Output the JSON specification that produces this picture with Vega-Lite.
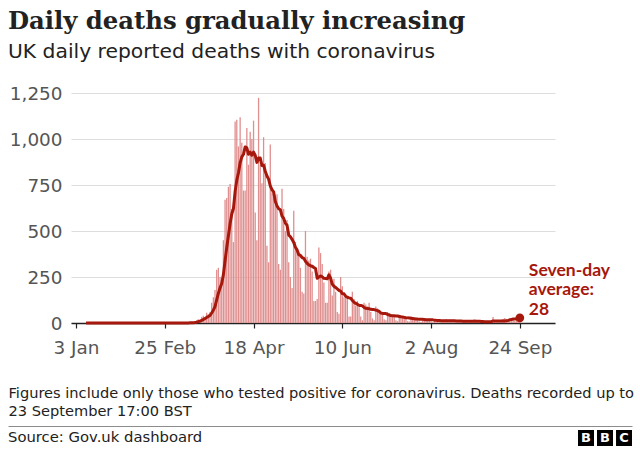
{
  "$schema": "https://vega.github.io/schema/vega-lite/v6.json",
  "background": "white",
  "padding": {"left": 8, "right": 8, "top": 10, "bottom": 0},
  "title": {
    "text": "Daily deaths gradually increasing",
    "subtitle": "UK daily reported deaths with coronavirus",
    "anchor": "start",
    "frame": "bounds",
    "font": "DejaVu Serif",
    "fontSize": 24.3,
    "fontWeight": "bold",
    "color": "#222222",
    "subtitleFont": "DejaVu Sans",
    "subtitleFontSize": 20.3,
    "subtitleColor": "#222222",
    "subtitlePadding": 7,
    "offset": 22
  },
  "datasets": {
    "deaths": [
      {"d":"2020-01-03","v":0},{"d":"2020-01-04","v":0},{"d":"2020-01-05","v":0},{"d":"2020-01-06","v":0},{"d":"2020-01-07","v":0},{"d":"2020-01-08","v":0},{"d":"2020-01-09","v":0},{"d":"2020-01-10","v":0},{"d":"2020-01-11","v":0},{"d":"2020-01-12","v":0},{"d":"2020-01-13","v":0},{"d":"2020-01-14","v":0},{"d":"2020-01-15","v":0},{"d":"2020-01-16","v":0},{"d":"2020-01-17","v":0},{"d":"2020-01-18","v":0},{"d":"2020-01-19","v":0},{"d":"2020-01-20","v":0},{"d":"2020-01-21","v":0},{"d":"2020-01-22","v":0},{"d":"2020-01-23","v":0},{"d":"2020-01-24","v":0},{"d":"2020-01-25","v":0},{"d":"2020-01-26","v":0},{"d":"2020-01-27","v":0},{"d":"2020-01-28","v":0},{"d":"2020-01-29","v":0},{"d":"2020-01-30","v":0},{"d":"2020-01-31","v":0},
      {"d":"2020-02-01","v":0},{"d":"2020-02-02","v":0},{"d":"2020-02-03","v":0},{"d":"2020-02-04","v":0},{"d":"2020-02-05","v":0},{"d":"2020-02-06","v":0},{"d":"2020-02-07","v":0},{"d":"2020-02-08","v":0},{"d":"2020-02-09","v":0},{"d":"2020-02-10","v":0},{"d":"2020-02-11","v":0},{"d":"2020-02-12","v":0},{"d":"2020-02-13","v":0},{"d":"2020-02-14","v":0},{"d":"2020-02-15","v":0},{"d":"2020-02-16","v":0},{"d":"2020-02-17","v":0},{"d":"2020-02-18","v":0},{"d":"2020-02-19","v":0},{"d":"2020-02-20","v":0},{"d":"2020-02-21","v":0},{"d":"2020-02-22","v":0},{"d":"2020-02-23","v":0},{"d":"2020-02-24","v":0},{"d":"2020-02-25","v":0},{"d":"2020-02-26","v":0},{"d":"2020-02-27","v":0},{"d":"2020-02-28","v":0},{"d":"2020-02-29","v":0},
      {"d":"2020-03-01","v":0},{"d":"2020-03-02","v":0},{"d":"2020-03-03","v":0},{"d":"2020-03-04","v":0},{"d":"2020-03-05","v":0},{"d":"2020-03-06","v":1},{"d":"2020-03-07","v":0},{"d":"2020-03-08","v":1},{"d":"2020-03-09","v":1},{"d":"2020-03-10","v":1},{"d":"2020-03-11","v":2},{"d":"2020-03-12","v":1},{"d":"2020-03-13","v":2},{"d":"2020-03-14","v":11},{"d":"2020-03-15","v":14},{"d":"2020-03-16","v":20},{"d":"2020-03-17","v":16},{"d":"2020-03-18","v":33},{"d":"2020-03-19","v":40},{"d":"2020-03-20","v":33},{"d":"2020-03-21","v":56},{"d":"2020-03-22","v":48},{"d":"2020-03-23","v":60},{"d":"2020-03-24","v":110},{"d":"2020-03-25","v":140},{"d":"2020-03-26","v":180},{"d":"2020-03-27","v":290},{"d":"2020-03-28","v":300},{"d":"2020-03-29","v":250},{"d":"2020-03-30","v":230},{"d":"2020-03-31","v":450},
      {"d":"2020-04-01","v":670},{"d":"2020-04-02","v":680},{"d":"2020-04-03","v":740},{"d":"2020-04-04","v":755},{"d":"2020-04-05","v":620},{"d":"2020-04-06","v":440},{"d":"2020-04-07","v":1095},{"d":"2020-04-08","v":1105},{"d":"2020-04-09","v":960},{"d":"2020-04-10","v":1118},{"d":"2020-04-11","v":980},{"d":"2020-04-12","v":720},{"d":"2020-04-13","v":720},{"d":"2020-04-14","v":1060},{"d":"2020-04-15","v":860},{"d":"2020-04-16","v":1040},{"d":"2020-04-17","v":1000},{"d":"2020-04-18","v":1100},{"d":"2020-04-19","v":600},{"d":"2020-04-20","v":450},{"d":"2020-04-21","v":1224},{"d":"2020-04-22","v":860},{"d":"2020-04-23","v":760},{"d":"2020-04-24","v":1010},{"d":"2020-04-25","v":870},{"d":"2020-04-26","v":420},{"d":"2020-04-27","v":330},{"d":"2020-04-28","v":970},{"d":"2020-04-29","v":710},{"d":"2020-04-30","v":680},
      {"d":"2020-05-01","v":640},{"d":"2020-05-02","v":700},{"d":"2020-05-03","v":320},{"d":"2020-05-04","v":290},{"d":"2020-05-05","v":730},{"d":"2020-05-06","v":620},{"d":"2020-05-07","v":500},{"d":"2020-05-08","v":560},{"d":"2020-05-09","v":330},{"d":"2020-05-10","v":250},{"d":"2020-05-11","v":190},{"d":"2020-05-12","v":610},{"d":"2020-05-13","v":440},{"d":"2020-05-14","v":400},{"d":"2020-05-15","v":380},{"d":"2020-05-16","v":300},{"d":"2020-05-17","v":170},{"d":"2020-05-18","v":160},{"d":"2020-05-19","v":500},{"d":"2020-05-20","v":360},{"d":"2020-05-21","v":340},{"d":"2020-05-22","v":350},{"d":"2020-05-23","v":280},{"d":"2020-05-24","v":120},{"d":"2020-05-25","v":120},{"d":"2020-05-26","v":130},{"d":"2020-05-27","v":410},{"d":"2020-05-28","v":380},{"d":"2020-05-29","v":320},{"d":"2020-05-30","v":220},{"d":"2020-05-31","v":110},
      {"d":"2020-06-01","v":110},{"d":"2020-06-02","v":280},{"d":"2020-06-03","v":290},{"d":"2020-06-04","v":150},{"d":"2020-06-05","v":240},{"d":"2020-06-06","v":170},{"d":"2020-06-07","v":60},{"d":"2020-06-08","v":50},{"d":"2020-06-09","v":250},{"d":"2020-06-10","v":200},{"d":"2020-06-11","v":140},{"d":"2020-06-12","v":150},{"d":"2020-06-13","v":130},{"d":"2020-06-14","v":35},{"d":"2020-06-15","v":35},{"d":"2020-06-16","v":170},{"d":"2020-06-17","v":130},{"d":"2020-06-18","v":95},{"d":"2020-06-19","v":120},{"d":"2020-06-20","v":85},{"d":"2020-06-21","v":35},{"d":"2020-06-22","v":15},{"d":"2020-06-23","v":110},{"d":"2020-06-24","v":100},{"d":"2020-06-25","v":90},{"d":"2020-06-26","v":110},{"d":"2020-06-27","v":60},{"d":"2020-06-28","v":25},{"d":"2020-06-29","v":15},{"d":"2020-06-30","v":90},
      {"d":"2020-07-01","v":80},{"d":"2020-07-02","v":60},{"d":"2020-07-03","v":50},{"d":"2020-07-04","v":45},{"d":"2020-07-05","v":20},{"d":"2020-07-06","v":15},{"d":"2020-07-07","v":60},{"d":"2020-07-08","v":55},{"d":"2020-07-09","v":40},{"d":"2020-07-10","v":45},{"d":"2020-07-11","v":40},{"d":"2020-07-12","v":15},{"d":"2020-07-13","v":10},{"d":"2020-07-14","v":45},{"d":"2020-07-15","v":40},{"d":"2020-07-16","v":35},{"d":"2020-07-17","v":30},{"d":"2020-07-18","v":25},{"d":"2020-07-19","v":10},{"d":"2020-07-20","v":8},{"d":"2020-07-21","v":35},{"d":"2020-07-22","v":30},{"d":"2020-07-23","v":25},{"d":"2020-07-24","v":20},{"d":"2020-07-25","v":20},{"d":"2020-07-26","v":8},{"d":"2020-07-27","v":5},{"d":"2020-07-28","v":30},{"d":"2020-07-29","v":25},{"d":"2020-07-30","v":20},{"d":"2020-07-31","v":18},
      {"d":"2020-08-01","v":15},{"d":"2020-08-02","v":8},{"d":"2020-08-03","v":3},{"d":"2020-08-04","v":20},{"d":"2020-08-05","v":18},{"d":"2020-08-06","v":15},{"d":"2020-08-07","v":12},{"d":"2020-08-08","v":10},{"d":"2020-08-09","v":5},{"d":"2020-08-10","v":8},{"d":"2020-08-11","v":20},{"d":"2020-08-12","v":15},{"d":"2020-08-13","v":12},{"d":"2020-08-14","v":14},{"d":"2020-08-15","v":10},{"d":"2020-08-16","v":5},{"d":"2020-08-17","v":3},{"d":"2020-08-18","v":15},{"d":"2020-08-19","v":14},{"d":"2020-08-20","v":12},{"d":"2020-08-21","v":10},{"d":"2020-08-22","v":12},{"d":"2020-08-23","v":3},{"d":"2020-08-24","v":2},{"d":"2020-08-25","v":16},{"d":"2020-08-26","v":15},{"d":"2020-08-27","v":13},{"d":"2020-08-28","v":12},{"d":"2020-08-29","v":10},{"d":"2020-08-30","v":1},{"d":"2020-08-31","v":2},
      {"d":"2020-09-01","v":3},{"d":"2020-09-02","v":12},{"d":"2020-09-03","v":10},{"d":"2020-09-04","v":12},{"d":"2020-09-05","v":8},{"d":"2020-09-06","v":2},{"d":"2020-09-07","v":3},{"d":"2020-09-08","v":32},{"d":"2020-09-09","v":8},{"d":"2020-09-10","v":14},{"d":"2020-09-11","v":6},{"d":"2020-09-12","v":9},{"d":"2020-09-13","v":5},{"d":"2020-09-14","v":9},{"d":"2020-09-15","v":27},{"d":"2020-09-16","v":20},{"d":"2020-09-17","v":21},{"d":"2020-09-18","v":27},{"d":"2020-09-19","v":27},{"d":"2020-09-20","v":18},{"d":"2020-09-21","v":11},{"d":"2020-09-22","v":37},{"d":"2020-09-23","v":37},{"d":"2020-09-24","v":40}
    ]
  },
  "columns": 1,
  "align": "none",
  "spacing": 8,
  "concat": [
    {
      "width": 484,
      "height": 230,
      "data": {"name": "deaths"},
      "encoding": {
        "x": {
          "field": "d",
          "type": "temporal",
          "scale": {"type": "utc", "domain": [{"year": 2020, "month": 1, "date": 3, "utc": true}, {"year": 2020, "month": 10, "date": 12, "utc": true}]},
          "axis": {
            "values": [
              {"year": 2020, "month": 1, "date": 3, "utc": true},
              {"year": 2020, "month": 2, "date": 25, "utc": true},
              {"year": 2020, "month": 4, "date": 18, "utc": true},
              {"year": 2020, "month": 6, "date": 10, "utc": true},
              {"year": 2020, "month": 8, "date": 2, "utc": true},
              {"year": 2020, "month": 9, "date": 24, "utc": true}
            ],
            "labelExpr": "utcFormat(datum.value, '%-d %b')",
            "grid": false,
            "labelFlush": false,
            "labelOverlap": false,
            "labelFont": "DejaVu Sans",
            "labelFontSize": 18.4,
            "labelColor": "#555555",
            "labelPadding": 10,
            "domainColor": "#222222",
            "domainWidth": 1.5,
            "tickColor": "#222222",
            "tickSize": 5,
            "tickWidth": 1.2,
            "title": ["Figures include only those who tested positive for coronavirus. Deaths recorded up to", "23 September 17:00 BST"],
            "titleFont": "DejaVu Sans",
            "titleFontSize": 14.6,
            "titleFontWeight": "normal",
            "titleColor": "#222222",
            "titleAlign": "left",
            "titleAnchor": "start",
            "titleBaseline": "top",
            "titleX": -63,
            "titleY": 62,
            "titleLineHeight": 18
          }
        }
      },
      "layer": [
        {
          "mark": {"type": "bar", "width": 1.3, "color": "#e08f8f"},
          "encoding": {
            "y": {
              "field": "v",
              "type": "quantitative",
              "scale": {"domain": [0, 1250], "nice": false},
              "axis": {
                "title": null,
                "values": [0, 250, 500, 750, 1000, 1250],
                "format": ",d",
                "domain": false,
                "ticks": false,
                "labelFont": "DejaVu Sans",
                "labelFontSize": 18.4,
                "labelColor": "#555555",
                "labelPadding": 9,
                "gridColor": "#dddddd",
                "gridWidth": 1.2
              }
            }
          }
        },
        {
          "transform": [
            {"window": [{"op": "mean", "field": "v", "as": "avg"}, {"op": "count", "as": "n"}], "frame": [-6, 0], "sort": [{"field": "d", "order": "ascending"}]},
            {"filter": "datum.n == 7"}
          ],
          "mark": {"type": "line", "color": "#a6170c", "strokeWidth": 3, "strokeJoin": "round"},
          "encoding": {
            "y": {"field": "avg", "type": "quantitative", "title": null, "scale": {"domain": [0, 1250], "nice": false}}
          }
        },
        {
          "transform": [
            {"window": [{"op": "mean", "field": "v", "as": "avg"}, {"op": "count", "as": "n"}], "frame": [-6, 0], "sort": [{"field": "d", "order": "ascending"}]},
            {"filter": "time(datum.d) == utc(2020, 8, 24)"}
          ],
          "layer": [
            {
              "mark": {"type": "circle", "size": 75, "color": "#a6170c", "opacity": 1},
              "encoding": {
                "y": {"field": "avg", "type": "quantitative", "title": null, "scale": {"domain": [0, 1250], "nice": false}}
              }
            },
            {
              "mark": {"type": "text", "text": ["Seven-day", "average:", "28"], "align": "left", "baseline": "alphabetic", "dx": 9, "dy": -42, "font": "Lato", "fontSize": 17.5, "fontWeight": "bold", "color": "#a6170c", "lineHeight": 19.5},
              "encoding": {
                "y": {"field": "avg", "type": "quantitative", "title": null, "scale": {"domain": [0, 1250], "nice": false}}
              }
            }
          ]
        }
      ]
    },
    {
      "width": 561,
      "height": 16,
      "layer": [
        {
          "data": {"values": [{"t": "Source: Gov.uk dashboard"}]},
          "mark": {"type": "text", "align": "left", "baseline": "middle", "font": "DejaVu Sans", "fontSize": 14.8, "color": "#222222"},
          "encoding": {
            "x": {
              "field": "t",
              "type": "nominal",
              "scale": {"type": "point", "range": [-63, 561], "padding": 0, "align": 0},
              "axis": {"orient": "top", "labels": false, "ticks": false, "title": null, "domainColor": "#8c8c8c", "domainWidth": 1, "offset": 4}
            },
            "text": {"field": "t"}
          }
        },
        {
          "data": {"values": [{"k": "1", "l": "B"}, {"k": "2", "l": "B"}, {"k": "3", "l": "C"}]},
          "encoding": {
            "x": {
              "field": "k",
              "type": "nominal",
              "scale": {"type": "band", "range": [507, 561], "paddingInner": 0.16, "paddingOuter": 0},
              "axis": null
            }
          },
          "layer": [
            {"mark": {"type": "bar", "color": "#000000"}},
            {
              "mark": {"type": "text", "color": "#ffffff", "font": "DejaVu Sans", "fontWeight": "bold", "fontSize": 13, "baseline": "middle"},
              "encoding": {"text": {"field": "l"}}
            }
          ]
        }
      ],
      "resolve": {"scale": {"x": "independent"}, "axis": {"x": "independent"}}
    }
  ],
  "config": {
    "view": {"stroke": null},
    "font": "DejaVu Sans"
  }
}
